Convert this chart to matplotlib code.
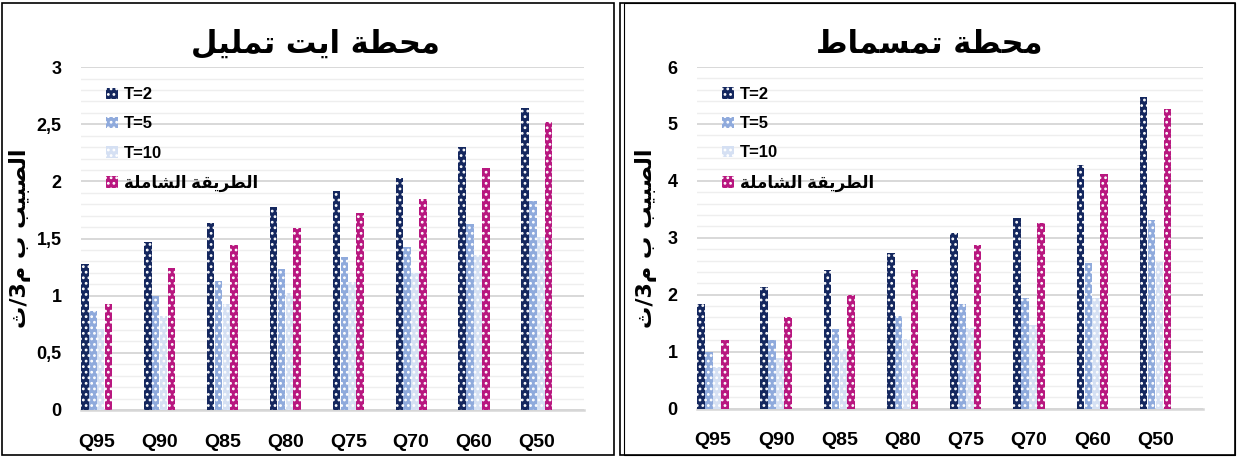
import matplotlib
matplotlib.use('Agg')
import matplotlib.pyplot as plt
from matplotlib.patches import Patch, Rectangle
from matplotlib.ticker import MultipleLocator, FixedLocator


quantiles = ['Q95', 'Q90', 'Q85', 'Q80', 'Q75', 'Q70', 'Q60', 'Q50']

# station 1 (left)
left_t2 = [1.28, 1.47, 1.64, 1.78, 1.92, 2.03, 2.30, 2.64]
left_t5 = [0.87, 1.00, 1.13, 1.23, 1.34, 1.43, 1.63, 1.83]
left_t10 = [0.71, 0.82, 0.93, 1.02, 1.12, 1.20, 1.36, 1.51]
left_global = [0.93, 1.24, 1.44, 1.59, 1.72, 1.85, 2.12, 2.52]

# station 2 (right)
right_t2 = [1.83, 2.14, 2.43, 2.73, 3.08, 3.35, 4.28, 5.48]
right_t5 = [1.00, 1.20, 1.40, 1.62, 1.84, 1.94, 2.55, 3.32]
right_t10 = [0.73, 0.88, 1.04, 1.23, 1.41, 1.46, 1.94, 2.57]
right_global = [1.21, 1.61, 1.99, 2.44, 2.87, 3.26, 4.12, 5.26]

series_names = ['T=2', 'T=5', 'T=10', 'الطريقة الشاملة']
colors = ['#14275E', '#8FAADC', '#D5E0F3', '#B8177F']

title_left = 'محطة ايت تمليل'
title_right = 'محطة تمسماط'
ylabel = 'الصبيب ب م3/ث'


# matplotlib has no arabic shaping, so do it by hand:
# (isolated, final, initial, medial) presentation forms
forms = {
    'ا': ('\uFE8D', '\uFE8E', None, None),
    'ب': ('\uFE8F', '\uFE90', '\uFE91', '\uFE92'),
    'ة': ('\uFE93', '\uFE94', None, None),
    'ت': ('\uFE95', '\uFE96', '\uFE97', '\uFE98'),
    'ث': ('\uFE99', '\uFE9A', '\uFE9B', '\uFE9C'),
    'ح': ('\uFEA1', '\uFEA2', '\uFEA3', '\uFEA4'),
    'ر': ('\uFEAD', '\uFEAE', None, None),
    'س': ('\uFEB1', '\uFEB2', '\uFEB3', '\uFEB4'),
    'ش': ('\uFEB5', '\uFEB6', '\uFEB7', '\uFEB8'),
    'ص': ('\uFEB9', '\uFEBA', '\uFEBB', '\uFEBC'),
    'ط': ('\uFEC1', '\uFEC2', '\uFEC3', '\uFEC4'),
    'ق': ('\uFED5', '\uFED6', '\uFED7', '\uFED8'),
    'ل': ('\uFEDD', '\uFEDE', '\uFEDF', '\uFEE0'),
    'م': ('\uFEE1', '\uFEE2', '\uFEE3', '\uFEE4'),
    'ي': ('\uFEF1', '\uFEF2', '\uFEF3', '\uFEF4'),
}


def shape(text):
    out = []
    for i, c in enumerate(text):
        if c not in forms:
            out.append(c)
            continue
        prev = text[i-1] if i > 0 else ''
        nxt = text[i+1] if i < len(text)-1 else ''
        join_prev = prev in forms and forms[prev][2] is not None
        join_next = nxt in forms and forms[c][2] is not None
        iso, fin, ini, med = forms[c]
        if join_prev and join_next:
            out.append(med)
        elif join_prev:
            out.append(fin)
        elif join_next:
            out.append(ini)
        else:
            out.append(iso)
    # right to left -> reverse for display
    return ''.join(out)[::-1]


plt.rcParams['font.family'] = ['Liberation Sans', 'DejaVu Sans']
plt.rcParams['hatch.linewidth'] = 1.2

fig = plt.figure(figsize=(12.37, 4.59), dpi=100)

# panel frames
fig.patches.append(Rectangle((0.002, 0.008), 0.494, 0.985, transform=fig.transFigure,
                             fill=False, edgecolor='black', linewidth=1.2))
fig.patches.append(Rectangle((0.501, 0.008), 0.497, 0.985, transform=fig.transFigure,
                             fill=False, edgecolor='black', linewidth=1.2))
fig.patches.append(Rectangle((0.5045, 0.008), 0.4935, 0.985, transform=fig.transFigure,
                             fill=False, edgecolor='black', linewidth=0.8))

ax_left = fig.add_axes([0.0655, 0.1068, 0.4066, 0.747])
ax_right = fig.add_axes([0.5635, 0.110, 0.409, 0.744])

bar_w = 0.125


def draw(ax, data, ymax, major, minor, ticklabels, title, title_x, label_x):
    for k, values in enumerate(data):
        xs = [i + bar_w/2 + k*bar_w for i in range(len(quantiles))]
        ax.bar(xs, values, width=bar_w*0.96, color=colors[k], edgecolor='white',
               linewidth=0, hatch='...', zorder=3)

    ax.set_xlim(0, len(quantiles))
    ax.set_ylim(0, ymax)
    ax.set_xticks([i + 0.25 for i in range(len(quantiles))])
    ax.set_xticklabels(quantiles, fontsize=14, fontweight='bold')
    ax.yaxis.set_major_locator(FixedLocator([major*j for j in range(int(round(ymax/major))+1)]))
    ax.set_yticklabels(ticklabels, fontsize=13, fontweight='bold')
    ax.yaxis.set_minor_locator(MultipleLocator(minor))
    ax.tick_params(axis='both', which='both', length=0)
    ax.tick_params(axis='x', pad=17)
    ax.tick_params(axis='y', pad=14)
    ax.grid(axis='y', which='major', color='#D6D6D6', linewidth=1.3, zorder=0)
    ax.grid(axis='y', which='minor', color='#EEEEEE', linewidth=1.0, zorder=0)
    for side in ['top', 'right', 'left']:
        ax.spines[side].set_visible(False)
    ax.spines['bottom'].set_color('#D6D6D6')
    ax.spines['bottom'].set_linewidth(1.8)

    ax.set_ylabel(shape(ylabel), family=['DejaVu Sans'], fontsize=16,
                  fontweight='bold')
    ax.yaxis.set_label_coords(label_x, 0.5)

    handles = [Patch(facecolor=colors[k], edgecolor='white', linewidth=0, hatch='...')
               for k in range(4)]
    labels = series_names[:3] + [shape(series_names[3])]
    ax.legend(handles, labels, loc='upper left', bbox_to_anchor=(0.02, 0.985),
              frameon=False, handlelength=0.7, handleheight=0.7,
              handletextpad=0.35, labelspacing=0.85,
              prop={'family': ['Liberation Sans', 'DejaVu Sans'],
                    'weight': 'bold', 'size': 12})

    fig.text(title_x, 0.905, shape(title), ha='center', va='center',
             family=['DejaVu Sans'], fontsize=22, fontweight='bold')


draw(ax_left, [left_t2, left_t5, left_t10, left_global], 3, 0.5, 0.1,
     ['0', '0,5', '1', '1,5', '2', '2,5', '3'], title_left, 0.255, -0.1)
draw(ax_right, [right_t2, right_t5, right_t10, right_global], 6, 1, 0.2,
     ['0', '1', '2', '3', '4', '5', '6'], title_right, 0.751, -0.08)

fig.savefig('out.png', dpi=100)
